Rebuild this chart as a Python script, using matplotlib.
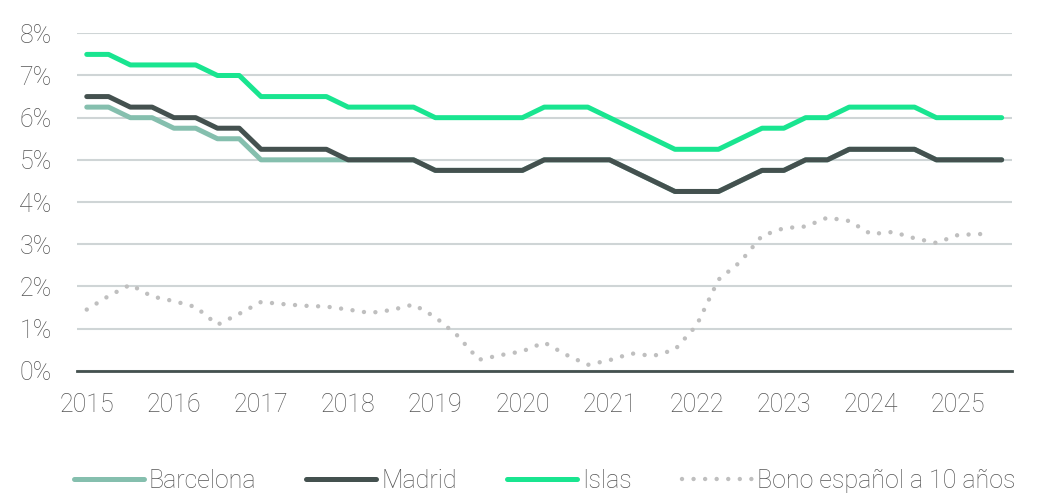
import matplotlib
matplotlib.use("Agg")
import matplotlib.pyplot as plt
import numpy as np

# quarterly series, 2015 Q1 .. 2025 Q3
quarters = 2015 + np.arange(43) / 4

barcelona = [6.25, 6.25, 6.0, 6.0, 5.75, 5.75, 5.5, 5.5, 5.0, 5.0, 5.0, 5.0,
             5.0, 5.0, 5.0, 5.0, 4.75, 4.75, 4.75, 4.75, 4.75, 5.0, 5.0, 5.0,
             5.0, 4.75, 4.5, 4.25, 4.25, 4.25, 4.5, 4.75, 4.75, 5.0, 5.0,
             5.25, 5.25, 5.25, 5.25, 5.0, 5.0, 5.0, 5.0]
madrid = [6.5, 6.5, 6.25, 6.25, 6.0, 6.0, 5.75, 5.75, 5.25, 5.25, 5.25, 5.25,
          5.0, 5.0, 5.0, 5.0, 4.75, 4.75, 4.75, 4.75, 4.75, 5.0, 5.0, 5.0,
          5.0, 4.75, 4.5, 4.25, 4.25, 4.25, 4.5, 4.75, 4.75, 5.0, 5.0,
          5.25, 5.25, 5.25, 5.25, 5.0, 5.0, 5.0, 5.0]
islas = [7.5, 7.5, 7.25, 7.25, 7.25, 7.25, 7.0, 7.0, 6.5, 6.5, 6.5, 6.5,
         6.25, 6.25, 6.25, 6.25, 6.0, 6.0, 6.0, 6.0, 6.0, 6.25, 6.25, 6.25,
         6.0, 5.75, 5.5, 5.25, 5.25, 5.25, 5.5, 5.75, 5.75, 6.0, 6.0,
         6.25, 6.25, 6.25, 6.25, 6.0, 6.0, 6.0, 6.0]

bono_dates = list(quarters[:42]) + [2025.36]
bono = [1.45, 1.77, 2.04, 1.76, 1.65, 1.51, 1.09, 1.35, 1.63, 1.58, 1.54,
        1.52, 1.45, 1.37, 1.44, 1.57, 1.27, 0.84, 0.26, 0.37, 0.46, 0.67,
        0.38, 0.14, 0.25, 0.41, 0.35, 0.50, 1.08, 2.16, 2.58, 3.20, 3.38,
        3.42, 3.63, 3.55, 3.24, 3.29, 3.14, 3.03, 3.22, 3.24, 3.25]

years = list(range(2015, 2026))
y_ticks = list(range(0, 9))

TEXT = "#555555"
plt.rcParams["font.family"] = ["Roboto", "DejaVu Sans"]
plt.rcParams["font.weight"] = "light"

fig = plt.figure(figsize=(10.57, 4.98), dpi=100)
ax = fig.add_axes([0.0726, 0.2556, 0.8848, 0.6775])

ax.plot(quarters, barcelona, color="#85bfae", lw=3.6, solid_capstyle="round",
        solid_joinstyle="round", label="Barcelona", zorder=3)
ax.plot(quarters, madrid, color="#44514f", lw=3.6, solid_capstyle="round",
        solid_joinstyle="round", label="Madrid", zorder=4)
ax.plot(quarters, islas, color="#19e590", lw=3.6, solid_capstyle="round",
        solid_joinstyle="round", label="Islas", zorder=5)
ax.plot(bono_dates, bono, color="#bfbfbf", lw=3.2, linestyle=(0, (0.001, 2.6)),
        dash_capstyle="round", label="Bono español a 10 años", zorder=3)

ax.set_xlim(2014.885, 2025.618)
ax.set_ylim(0, 8)
ax.set_xticks(years)
ax.set_xticklabels([str(y) for y in years])
ax.set_yticks(y_ticks)
ax.set_yticklabels([f"{v}%" for v in y_ticks])

ax.grid(axis="y", color="#cfd5d6", lw=1.5, zorder=0)
ax.set_axisbelow(True)
for s in ["top", "right", "left"]:
    ax.spines[s].set_visible(False)
ax.spines["bottom"].set_color("#44514f")
ax.spines["bottom"].set_linewidth(2)
ax.spines["bottom"].set_zorder(6)

ax.tick_params(axis="both", length=0, labelsize=18, labelcolor=TEXT)
ax.tick_params(axis="x", pad=16)
ax.tick_params(axis="y", pad=18)

ax.legend(loc="center", bbox_to_anchor=(0.5, -0.327), ncol=4, frameon=False,
          fontsize=18, labelcolor=TEXT, handlelength=2.8, handletextpad=0.2,
          columnspacing=2.0)

fig.savefig("out.png", dpi=100)
